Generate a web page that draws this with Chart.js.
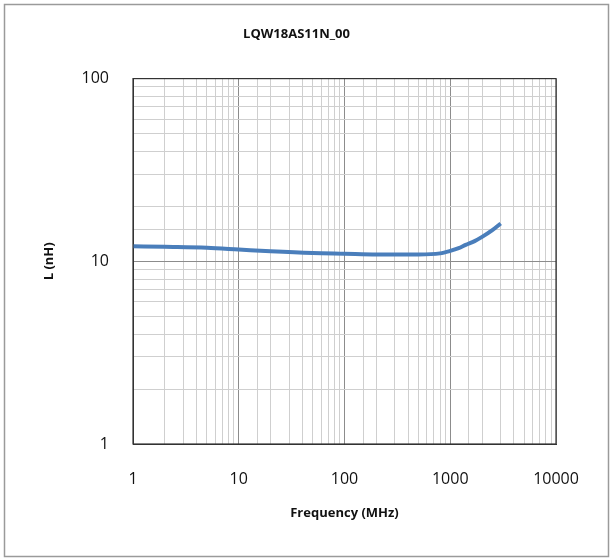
<!DOCTYPE html>
<html>
<head>
<meta charset="utf-8">
<script src="https://cdn.jsdelivr.net/npm/chart.js@4"></script>
<style>
  html, body { margin: 0; padding: 0; background: #fff; }
  #wrap { width: 613px; height: 559px; }
</style>
</head>
<body>
<div id="wrap"><canvas id="lChart" width="613" height="559"></canvas></div>
<script>
// Data
const chartTitle = 'LQW18AS11N_00';
const freqMHz = [1, 2, 5, 10, 20, 50, 100, 200, 500, 800, 1000, 1200, 1400, 1700, 2000, 2500, 3000];
const inductance = [12.1, 12.0, 11.85, 11.6, 11.35, 11.1, 11.0, 10.9, 10.9, 11.05, 11.4, 11.8, 12.3, 12.9, 13.6, 14.8, 16.1];
const xLabels = [1, 10, 100, 1000, 10000];
const yLabels = [1, 10, 100];

const isDecade = v => Math.abs(Math.log10(v) - Math.round(Math.log10(v))) < 1e-9;

// white background + outer frame
const framePlugin = {
    id: 'frame',
    beforeDraw(chart) {
        const c = chart.ctx;
        c.save();
        c.fillStyle = '#fff';
        c.fillRect(0, 0, chart.width, chart.height);
        c.strokeStyle = '#9a9a9a';
        c.lineWidth = 1.5;
        c.strokeRect(4.5, 4.5, chart.width - 9, chart.height - 7);
        c.restore();
    },
    afterDatasetsDraw(chart) {
        // dark border around plot area
        const a = chart.chartArea;
        const c = chart.ctx;
        c.save();
        c.strokeStyle = '#333';
        c.lineWidth = 1.2;
        c.strokeRect(a.left, a.top, a.right - a.left, a.bottom - a.top);
        c.restore();
    }
};

function gridColor(ctx) {
    const v = ctx.tick && ctx.tick.value;
    if (v === undefined) return '#ccc';
    return isDecade(v) ? '#8c8c8c' : '#cfcfcf';
}

const ctx = document.getElementById('lChart').getContext('2d');
const chart = new Chart(ctx, {
    type: 'line',
    data: {
        datasets: [{
            data: freqMHz.map((f, i) => ({ x: f, y: inductance[i] })),
            borderColor: '#4a7ebb',
            borderWidth: 4,
            pointRadius: 0,
            cubicInterpolationMode: 'monotone',
            fill: false,
        }],
    },
    options: {
        responsive: false,
        animation: false,
        layout: { padding: { left: 37, right: 57, top: 18, bottom: 34 } },
        plugins: {
            legend: { display: false },
            tooltip: { enabled: false },
            title: {
                display: true,
                text: chartTitle,
                color: '#111',
                font: { family: 'Open Sans', size: 13, weight: 'bold' },
                padding: { top: 8, bottom: 37 },
            },
        },
        scales: {
            x: {
                type: 'logarithmic',
                min: 1,
                max: 10000,
                grid: { color: gridColor, lineWidth: 1, drawTicks: false },
                border: { color: '#333' },
                ticks: {
                    autoSkip: false,
                    maxRotation: 0,
                    padding: 26,
                    color: '#111',
                    font: { family: 'Open Sans', size: 16 },
                    callback: v => xLabels.includes(v) ? String(v) : '',
                },
                title: {
                    display: true,
                    text: 'Frequency (MHz)',
                    color: '#111',
                    font: { family: 'Open Sans', size: 13, weight: 'bold' },
                    padding: { top: 8 },
                },
                afterFit: s => { s.height = 559 - 444 - 34; },
            },
            y: {
                type: 'logarithmic',
                min: 1,
                max: 100,
                grid: { color: gridColor, lineWidth: 1, drawTicks: false },
                border: { color: '#333' },
                ticks: {
                    autoSkip: false,
                    padding: 24,
                    color: '#111',
                    font: { family: 'Open Sans', size: 16 },
                    callback: v => yLabels.includes(v) ? String(v) : '',
                },
                title: {
                    display: true,
                    text: 'L (nH)',
                    color: '#111',
                    font: { family: 'Open Sans', size: 13, weight: 'bold' },
                    padding: { bottom: 22 },
                },
                afterFit: s => { s.width = 133 - 37; },
            },
        },
    },
    plugins: [framePlugin],
});
</script>
</body>
</html>
